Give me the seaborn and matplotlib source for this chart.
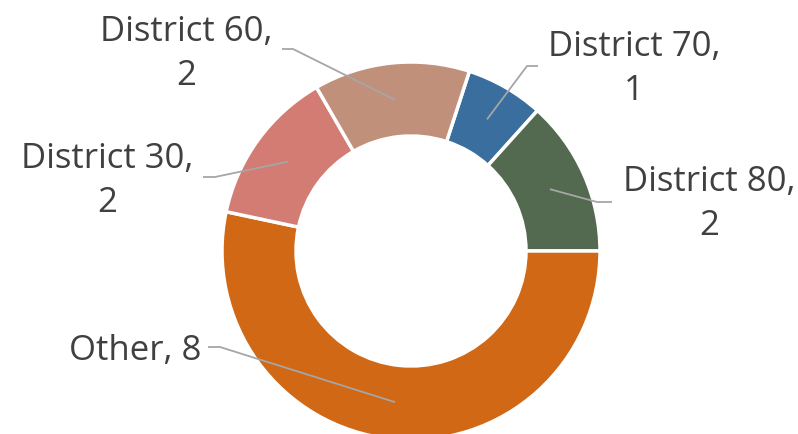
import matplotlib
matplotlib.use("Agg")
import numpy as np
import seaborn as sns
import matplotlib.pyplot as plt

# data
districts = ["District 70", "District 80", "Other", "District 30", "District 60"]
counts = [1, 2, 8, 2, 2]
colors = ["#3A6E9F", "#536A50", "#D16815", "#D27C73", "#C0907A"]

# label layout in image pixels: text centre x, text centre y, leader start x, leader end x, leader y
label_pos = {
    "District 70": (634, 69, 538, 527, 67),
    "District 80": (709, 204, 612, 597, 203),
    "Other": (135, 351, 208, 220, 348),
    "District 30": (107, 181, 203, 215, 178),
    "District 60": (186, 54, 282, 293, 50),
}

sns.set_theme(style="white")
plt.rcParams["font.family"] = ["Open Sans", "DejaVu Sans"]

W, H = 798, 435
fig = plt.figure(figsize=(W / 100, H / 100), dpi=100)
ax = fig.add_axes([0, 0, 1, 1])

cx, cy = 411, H - 252
R, ring = 189, 74

wedges, _ = ax.pie(counts, colors=colors, startangle=72, counterclock=False,
                   radius=R, center=(cx, cy),
                   wedgeprops=dict(width=ring, edgecolor="white", linewidth=2.5))
ax.set_xlim(0, W)
ax.set_ylim(0, H)
ax.set_aspect("equal")
ax.axis("off")

for w, name, n in zip(wedges, districts, counts):
    tx, ty, lx0, lx1, ly = label_pos[name]
    mid = np.deg2rad((w.theta1 + w.theta2) / 2)
    r = R - ring / 2
    ax_x = cx + r * np.cos(mid)
    ax_y = cy + r * np.sin(mid)
    ax.plot([lx0, lx1, ax_x], [H - ly, H - ly, ax_y], color="#A6A6A6", lw=1.3,
            solid_capstyle="butt")
    if name == "Other":
        txt = f"{name}, {n}"
    else:
        txt = f"{name},\n{n}"
    ax.text(tx, H - ty, txt, ha="center", va="center", fontsize=25,
            color="#404040", linespacing=1.38, multialignment="center")

fig.savefig("out.png", dpi=100)
